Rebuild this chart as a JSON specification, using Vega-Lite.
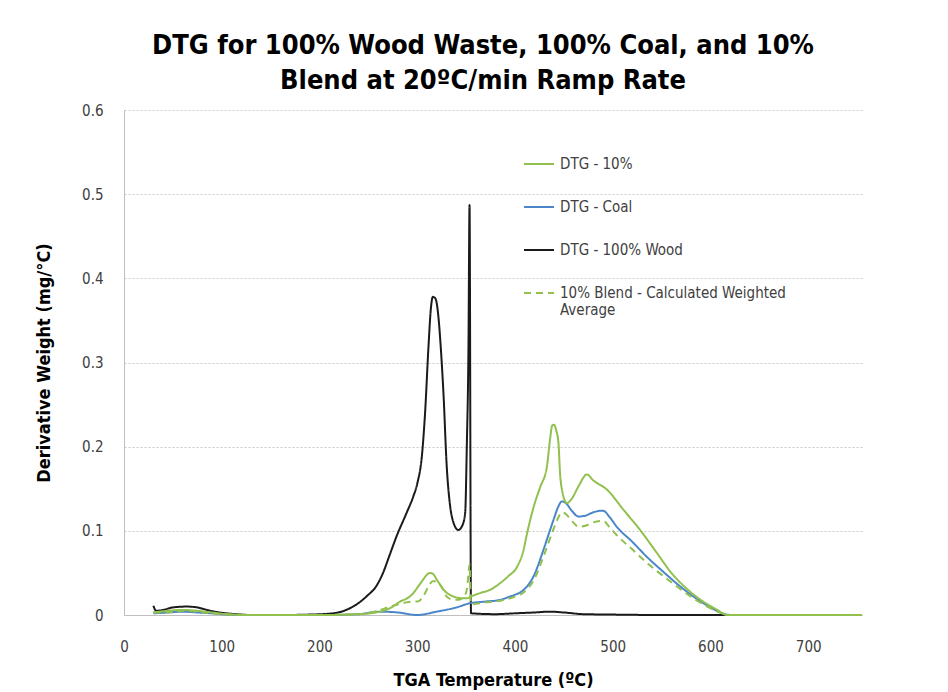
{
  "$schema": "https://vega.github.io/schema/vega-lite/v6.json",
  "width": 738,
  "height": 505,
  "autosize": {"type": "none"},
  "padding": {"left": 124, "top": 110, "right": 86, "bottom": 77},
  "background": "white",
  "title": {
    "text": ["DTG for 100% Wood Waste, 100% Coal, and 10%", "Blend at 20ºC/min Ramp Rate"],
    "font": "DejaVu Sans Condensed, Open Sans, DejaVu Sans",
    "fontSize": 27,
    "fontWeight": "bold",
    "color": "#000000",
    "lineHeight": 35,
    "anchor": "middle",
    "frame": "group",
    "dx": -10,
    "offset": 8
  },
  "config": {
    "view": {"stroke": null},
    "axis": {
      "labelFont": "DejaVu Sans Condensed, Open Sans, DejaVu Sans",
      "titleFont": "DejaVu Sans Condensed, Open Sans, DejaVu Sans",
      "labelFontSize": 15,
      "labelColor": "#404040",
      "titleFontSize": 18,
      "titleFontWeight": "bold",
      "titleColor": "#000000",
      "domainColor": "#bfbfbf",
      "gridColor": "#c8c8c8",
      "gridDash": [2, 2],
      "ticks": false
    },
    "legend": {
      "labelFont": "DejaVu Sans Condensed, Open Sans, DejaVu Sans",
      "labelFontSize": 15,
      "labelColor": "#404040"
    }
  },
  "data": {
    "values": [
      {"t": 30, "v": 0.011, "s": "DTG - 100% Wood"},
      {"t": 33, "v": 0.005, "s": "DTG - 100% Wood"},
      {"t": 40, "v": 0.006, "s": "DTG - 100% Wood"},
      {"t": 50, "v": 0.009, "s": "DTG - 100% Wood"},
      {"t": 64, "v": 0.010, "s": "DTG - 100% Wood"},
      {"t": 75, "v": 0.009, "s": "DTG - 100% Wood"},
      {"t": 85, "v": 0.006, "s": "DTG - 100% Wood"},
      {"t": 98, "v": 0.003, "s": "DTG - 100% Wood"},
      {"t": 115, "v": 0.001, "s": "DTG - 100% Wood"},
      {"t": 130, "v": 0.0, "s": "DTG - 100% Wood"},
      {"t": 160, "v": 0.0, "s": "DTG - 100% Wood"},
      {"t": 190, "v": 0.0005, "s": "DTG - 100% Wood"},
      {"t": 214, "v": 0.002, "s": "DTG - 100% Wood"},
      {"t": 231, "v": 0.008, "s": "DTG - 100% Wood"},
      {"t": 248, "v": 0.022, "s": "DTG - 100% Wood"},
      {"t": 259, "v": 0.036, "s": "DTG - 100% Wood"},
      {"t": 265, "v": 0.050, "s": "DTG - 100% Wood"},
      {"t": 272, "v": 0.072, "s": "DTG - 100% Wood"},
      {"t": 279, "v": 0.094, "s": "DTG - 100% Wood"},
      {"t": 289, "v": 0.121, "s": "DTG - 100% Wood"},
      {"t": 296, "v": 0.141, "s": "DTG - 100% Wood"},
      {"t": 300, "v": 0.156, "s": "DTG - 100% Wood"},
      {"t": 305, "v": 0.192, "s": "DTG - 100% Wood"},
      {"t": 308, "v": 0.240, "s": "DTG - 100% Wood"},
      {"t": 311.5, "v": 0.319, "s": "DTG - 100% Wood"},
      {"t": 314, "v": 0.365, "s": "DTG - 100% Wood"},
      {"t": 316, "v": 0.378, "s": "DTG - 100% Wood"},
      {"t": 318, "v": 0.377, "s": "DTG - 100% Wood"},
      {"t": 320, "v": 0.370, "s": "DTG - 100% Wood"},
      {"t": 322, "v": 0.350, "s": "DTG - 100% Wood"},
      {"t": 324, "v": 0.319, "s": "DTG - 100% Wood"},
      {"t": 327, "v": 0.259, "s": "DTG - 100% Wood"},
      {"t": 330, "v": 0.180, "s": "DTG - 100% Wood"},
      {"t": 333.7, "v": 0.129, "s": "DTG - 100% Wood"},
      {"t": 337, "v": 0.110, "s": "DTG - 100% Wood"},
      {"t": 342, "v": 0.101, "s": "DTG - 100% Wood"},
      {"t": 346, "v": 0.106, "s": "DTG - 100% Wood"},
      {"t": 349, "v": 0.121, "s": "DTG - 100% Wood"},
      {"t": 350.7, "v": 0.200, "s": "DTG - 100% Wood"},
      {"t": 352.4, "v": 0.319, "s": "DTG - 100% Wood"},
      {"t": 353.5, "v": 0.487, "s": "DTG - 100% Wood"},
      {"t": 355, "v": 0.002, "s": "DTG - 100% Wood"},
      {"t": 380, "v": 0.001, "s": "DTG - 100% Wood"},
      {"t": 400, "v": 0.002, "s": "DTG - 100% Wood"},
      {"t": 420, "v": 0.003, "s": "DTG - 100% Wood"},
      {"t": 436, "v": 0.004, "s": "DTG - 100% Wood"},
      {"t": 450, "v": 0.003, "s": "DTG - 100% Wood"},
      {"t": 470, "v": 0.001, "s": "DTG - 100% Wood"},
      {"t": 500, "v": 0.0005, "s": "DTG - 100% Wood"},
      {"t": 550, "v": 0.0, "s": "DTG - 100% Wood"},
      {"t": 650, "v": 0.0, "s": "DTG - 100% Wood"},
      {"t": 755, "v": 0.0, "s": "DTG - 100% Wood"},

      {"t": 30, "v": 0.002, "s": "DTG - Coal"},
      {"t": 45, "v": 0.003, "s": "DTG - Coal"},
      {"t": 60, "v": 0.004, "s": "DTG - Coal"},
      {"t": 75, "v": 0.003, "s": "DTG - Coal"},
      {"t": 90, "v": 0.002, "s": "DTG - Coal"},
      {"t": 105, "v": 0.0005, "s": "DTG - Coal"},
      {"t": 130, "v": 0.0, "s": "DTG - Coal"},
      {"t": 200, "v": 0.0, "s": "DTG - Coal"},
      {"t": 240, "v": 0.001, "s": "DTG - Coal"},
      {"t": 262, "v": 0.004, "s": "DTG - Coal"},
      {"t": 280, "v": 0.003, "s": "DTG - Coal"},
      {"t": 300, "v": 0.0, "s": "DTG - Coal"},
      {"t": 320, "v": 0.004, "s": "DTG - Coal"},
      {"t": 340, "v": 0.009, "s": "DTG - Coal"},
      {"t": 354, "v": 0.014, "s": "DTG - Coal"},
      {"t": 370, "v": 0.016, "s": "DTG - Coal"},
      {"t": 385, "v": 0.018, "s": "DTG - Coal"},
      {"t": 395, "v": 0.022, "s": "DTG - Coal"},
      {"t": 400, "v": 0.024, "s": "DTG - Coal"},
      {"t": 409, "v": 0.030, "s": "DTG - Coal"},
      {"t": 419, "v": 0.046, "s": "DTG - Coal"},
      {"t": 429, "v": 0.077, "s": "DTG - Coal"},
      {"t": 435, "v": 0.098, "s": "DTG - Coal"},
      {"t": 439.4, "v": 0.113, "s": "DTG - Coal"},
      {"t": 444, "v": 0.128, "s": "DTG - Coal"},
      {"t": 448, "v": 0.135, "s": "DTG - Coal"},
      {"t": 452, "v": 0.133, "s": "DTG - Coal"},
      {"t": 458, "v": 0.124, "s": "DTG - Coal"},
      {"t": 465, "v": 0.117, "s": "DTG - Coal"},
      {"t": 472, "v": 0.118, "s": "DTG - Coal"},
      {"t": 480, "v": 0.122, "s": "DTG - Coal"},
      {"t": 490, "v": 0.124, "s": "DTG - Coal"},
      {"t": 497, "v": 0.116, "s": "DTG - Coal"},
      {"t": 504, "v": 0.105, "s": "DTG - Coal"},
      {"t": 520, "v": 0.087, "s": "DTG - Coal"},
      {"t": 535, "v": 0.069, "s": "DTG - Coal"},
      {"t": 552, "v": 0.051, "s": "DTG - Coal"},
      {"t": 569, "v": 0.034, "s": "DTG - Coal"},
      {"t": 585, "v": 0.020, "s": "DTG - Coal"},
      {"t": 600, "v": 0.009, "s": "DTG - Coal"},
      {"t": 612, "v": 0.002, "s": "DTG - Coal"},
      {"t": 620, "v": 0.0, "s": "DTG - Coal"},
      {"t": 700, "v": 0.0, "s": "DTG - Coal"},
      {"t": 755, "v": 0.0, "s": "DTG - Coal"},

      {"t": 30, "v": 0.003, "s": "DTG - 10%"},
      {"t": 45, "v": 0.005, "s": "DTG - 10%"},
      {"t": 60, "v": 0.006, "s": "DTG - 10%"},
      {"t": 75, "v": 0.005, "s": "DTG - 10%"},
      {"t": 90, "v": 0.003, "s": "DTG - 10%"},
      {"t": 105, "v": 0.001, "s": "DTG - 10%"},
      {"t": 130, "v": 0.0, "s": "DTG - 10%"},
      {"t": 200, "v": 0.0, "s": "DTG - 10%"},
      {"t": 240, "v": 0.001, "s": "DTG - 10%"},
      {"t": 262, "v": 0.004, "s": "DTG - 10%"},
      {"t": 275, "v": 0.010, "s": "DTG - 10%"},
      {"t": 282.5, "v": 0.016, "s": "DTG - 10%"},
      {"t": 290, "v": 0.020, "s": "DTG - 10%"},
      {"t": 296, "v": 0.026, "s": "DTG - 10%"},
      {"t": 301, "v": 0.034, "s": "DTG - 10%"},
      {"t": 306, "v": 0.042, "s": "DTG - 10%"},
      {"t": 310, "v": 0.048, "s": "DTG - 10%"},
      {"t": 313, "v": 0.050, "s": "DTG - 10%"},
      {"t": 316, "v": 0.049, "s": "DTG - 10%"},
      {"t": 320, "v": 0.042, "s": "DTG - 10%"},
      {"t": 327, "v": 0.030, "s": "DTG - 10%"},
      {"t": 337, "v": 0.022, "s": "DTG - 10%"},
      {"t": 345, "v": 0.020, "s": "DTG - 10%"},
      {"t": 351, "v": 0.020, "s": "DTG - 10%"},
      {"t": 357, "v": 0.023, "s": "DTG - 10%"},
      {"t": 364, "v": 0.026, "s": "DTG - 10%"},
      {"t": 374.6, "v": 0.030, "s": "DTG - 10%"},
      {"t": 385, "v": 0.038, "s": "DTG - 10%"},
      {"t": 393, "v": 0.046, "s": "DTG - 10%"},
      {"t": 402, "v": 0.057, "s": "DTG - 10%"},
      {"t": 408.7, "v": 0.077, "s": "DTG - 10%"},
      {"t": 412, "v": 0.095, "s": "DTG - 10%"},
      {"t": 415.6, "v": 0.113, "s": "DTG - 10%"},
      {"t": 420, "v": 0.132, "s": "DTG - 10%"},
      {"t": 425.8, "v": 0.152, "s": "DTG - 10%"},
      {"t": 432.6, "v": 0.176, "s": "DTG - 10%"},
      {"t": 436, "v": 0.210, "s": "DTG - 10%"},
      {"t": 438, "v": 0.225, "s": "DTG - 10%"},
      {"t": 440, "v": 0.226, "s": "DTG - 10%"},
      {"t": 442, "v": 0.220, "s": "DTG - 10%"},
      {"t": 444.5, "v": 0.204, "s": "DTG - 10%"},
      {"t": 446, "v": 0.170, "s": "DTG - 10%"},
      {"t": 448, "v": 0.149, "s": "DTG - 10%"},
      {"t": 453, "v": 0.133, "s": "DTG - 10%"},
      {"t": 458, "v": 0.138, "s": "DTG - 10%"},
      {"t": 465, "v": 0.153, "s": "DTG - 10%"},
      {"t": 473.6, "v": 0.167, "s": "DTG - 10%"},
      {"t": 480, "v": 0.160, "s": "DTG - 10%"},
      {"t": 494, "v": 0.149, "s": "DTG - 10%"},
      {"t": 511, "v": 0.125, "s": "DTG - 10%"},
      {"t": 528, "v": 0.101, "s": "DTG - 10%"},
      {"t": 545, "v": 0.074, "s": "DTG - 10%"},
      {"t": 560, "v": 0.050, "s": "DTG - 10%"},
      {"t": 575, "v": 0.032, "s": "DTG - 10%"},
      {"t": 590, "v": 0.018, "s": "DTG - 10%"},
      {"t": 607, "v": 0.006, "s": "DTG - 10%"},
      {"t": 617, "v": 0.0, "s": "DTG - 10%"},
      {"t": 700, "v": 0.0, "s": "DTG - 10%"},
      {"t": 755, "v": 0.0, "s": "DTG - 10%"},

      {"t": 30, "v": 0.003, "s": "10% Blend - Calculated Weighted Average"},
      {"t": 45, "v": 0.003, "s": "10% Blend - Calculated Weighted Average"},
      {"t": 60, "v": 0.005, "s": "10% Blend - Calculated Weighted Average"},
      {"t": 75, "v": 0.004, "s": "10% Blend - Calculated Weighted Average"},
      {"t": 90, "v": 0.002, "s": "10% Blend - Calculated Weighted Average"},
      {"t": 105, "v": 0.0005, "s": "10% Blend - Calculated Weighted Average"},
      {"t": 130, "v": 0.0, "s": "10% Blend - Calculated Weighted Average"},
      {"t": 200, "v": 0.0, "s": "10% Blend - Calculated Weighted Average"},
      {"t": 240, "v": 0.001, "s": "10% Blend - Calculated Weighted Average"},
      {"t": 262, "v": 0.006, "s": "10% Blend - Calculated Weighted Average"},
      {"t": 272, "v": 0.010, "s": "10% Blend - Calculated Weighted Average"},
      {"t": 279, "v": 0.012, "s": "10% Blend - Calculated Weighted Average"},
      {"t": 289, "v": 0.015, "s": "10% Blend - Calculated Weighted Average"},
      {"t": 296, "v": 0.016, "s": "10% Blend - Calculated Weighted Average"},
      {"t": 300, "v": 0.016, "s": "10% Blend - Calculated Weighted Average"},
      {"t": 305, "v": 0.020, "s": "10% Blend - Calculated Weighted Average"},
      {"t": 308, "v": 0.026, "s": "10% Blend - Calculated Weighted Average"},
      {"t": 311.5, "v": 0.034, "s": "10% Blend - Calculated Weighted Average"},
      {"t": 316, "v": 0.040, "s": "10% Blend - Calculated Weighted Average"},
      {"t": 320, "v": 0.040, "s": "10% Blend - Calculated Weighted Average"},
      {"t": 324, "v": 0.035, "s": "10% Blend - Calculated Weighted Average"},
      {"t": 327, "v": 0.029, "s": "10% Blend - Calculated Weighted Average"},
      {"t": 330, "v": 0.022, "s": "10% Blend - Calculated Weighted Average"},
      {"t": 334, "v": 0.019, "s": "10% Blend - Calculated Weighted Average"},
      {"t": 342, "v": 0.018, "s": "10% Blend - Calculated Weighted Average"},
      {"t": 349, "v": 0.024, "s": "10% Blend - Calculated Weighted Average"},
      {"t": 351, "v": 0.032, "s": "10% Blend - Calculated Weighted Average"},
      {"t": 352.5, "v": 0.050, "s": "10% Blend - Calculated Weighted Average"},
      {"t": 353.5, "v": 0.060, "s": "10% Blend - Calculated Weighted Average"},
      {"t": 355, "v": 0.013, "s": "10% Blend - Calculated Weighted Average"},
      {"t": 370, "v": 0.015, "s": "10% Blend - Calculated Weighted Average"},
      {"t": 385, "v": 0.017, "s": "10% Blend - Calculated Weighted Average"},
      {"t": 400, "v": 0.022, "s": "10% Blend - Calculated Weighted Average"},
      {"t": 409, "v": 0.027, "s": "10% Blend - Calculated Weighted Average"},
      {"t": 419, "v": 0.041, "s": "10% Blend - Calculated Weighted Average"},
      {"t": 429, "v": 0.069, "s": "10% Blend - Calculated Weighted Average"},
      {"t": 439.4, "v": 0.102, "s": "10% Blend - Calculated Weighted Average"},
      {"t": 444, "v": 0.115, "s": "10% Blend - Calculated Weighted Average"},
      {"t": 448, "v": 0.122, "s": "10% Blend - Calculated Weighted Average"},
      {"t": 452, "v": 0.120, "s": "10% Blend - Calculated Weighted Average"},
      {"t": 458, "v": 0.112, "s": "10% Blend - Calculated Weighted Average"},
      {"t": 465, "v": 0.105, "s": "10% Blend - Calculated Weighted Average"},
      {"t": 472, "v": 0.106, "s": "10% Blend - Calculated Weighted Average"},
      {"t": 480, "v": 0.110, "s": "10% Blend - Calculated Weighted Average"},
      {"t": 490, "v": 0.112, "s": "10% Blend - Calculated Weighted Average"},
      {"t": 497, "v": 0.104, "s": "10% Blend - Calculated Weighted Average"},
      {"t": 504, "v": 0.095, "s": "10% Blend - Calculated Weighted Average"},
      {"t": 520, "v": 0.078, "s": "10% Blend - Calculated Weighted Average"},
      {"t": 535, "v": 0.062, "s": "10% Blend - Calculated Weighted Average"},
      {"t": 552, "v": 0.046, "s": "10% Blend - Calculated Weighted Average"},
      {"t": 569, "v": 0.031, "s": "10% Blend - Calculated Weighted Average"},
      {"t": 585, "v": 0.018, "s": "10% Blend - Calculated Weighted Average"},
      {"t": 600, "v": 0.008, "s": "10% Blend - Calculated Weighted Average"},
      {"t": 612, "v": 0.002, "s": "10% Blend - Calculated Weighted Average"},
      {"t": 620, "v": 0.0, "s": "10% Blend - Calculated Weighted Average"},
      {"t": 700, "v": 0.0, "s": "10% Blend - Calculated Weighted Average"},
      {"t": 755, "v": 0.0, "s": "10% Blend - Calculated Weighted Average"}
    ]
  },
  "mark": {"type": "line", "strokeWidth": 2, "interpolate": "monotone"},
  "encoding": {
    "x": {
      "field": "t",
      "type": "quantitative",
      "scale": {"domain": [0, 755], "nice": false, "zero": false},
      "axis": {
        "title": "TGA Temperature (ºC)",
        "values": [0, 100, 200, 300, 400, 500, 600, 700],
        "grid": false,
        "labelPadding": 24,
        "titlePadding": 17,
        "labelFlush": false
      }
    },
    "y": {
      "field": "v",
      "type": "quantitative",
      "scale": {"domain": [0, 0.6], "nice": false},
      "axis": {
        "title": "Derivative Weight (mg/°C)",
        "values": [0, 0.1, 0.2, 0.3, 0.4, 0.5, 0.6],
        "format": "~g",
        "labelPadding": 21,
        "titlePadding": 28,
        "labelFlush": false
      }
    },
    "color": {
      "field": "s",
      "type": "nominal",
      "scale": {
        "domain": ["DTG - 10%", "DTG - Coal", "DTG - 100% Wood", "10% Blend - Calculated Weighted Average"],
        "range": ["#92C04E", "#4A86C8", "#1a1a1a", "#92C04E"]
      },
      "legend": {
        "title": null,
        "orient": "none",
        "legendX": 399,
        "legendY": 38,
        "symbolType": "stroke",
        "symbolSize": 900,
        "symbolStrokeWidth": 2,
        "rowPadding": 19,
        "labelOffset": 5,
        "labelLimit": 320,
        "labelExpr": "datum.label == '10% Blend - Calculated Weighted Average' ? ['10% Blend - Calculated Weighted', 'Average'] : datum.label"
      }
    },
    "strokeDash": {
      "field": "s",
      "type": "nominal",
      "scale": {
        "domain": ["DTG - 10%", "DTG - Coal", "DTG - 100% Wood", "10% Blend - Calculated Weighted Average"],
        "range": [[1, 0], [1, 0], [1, 0], [7, 5]]
      },
      "legend": null
    }
  }
}
